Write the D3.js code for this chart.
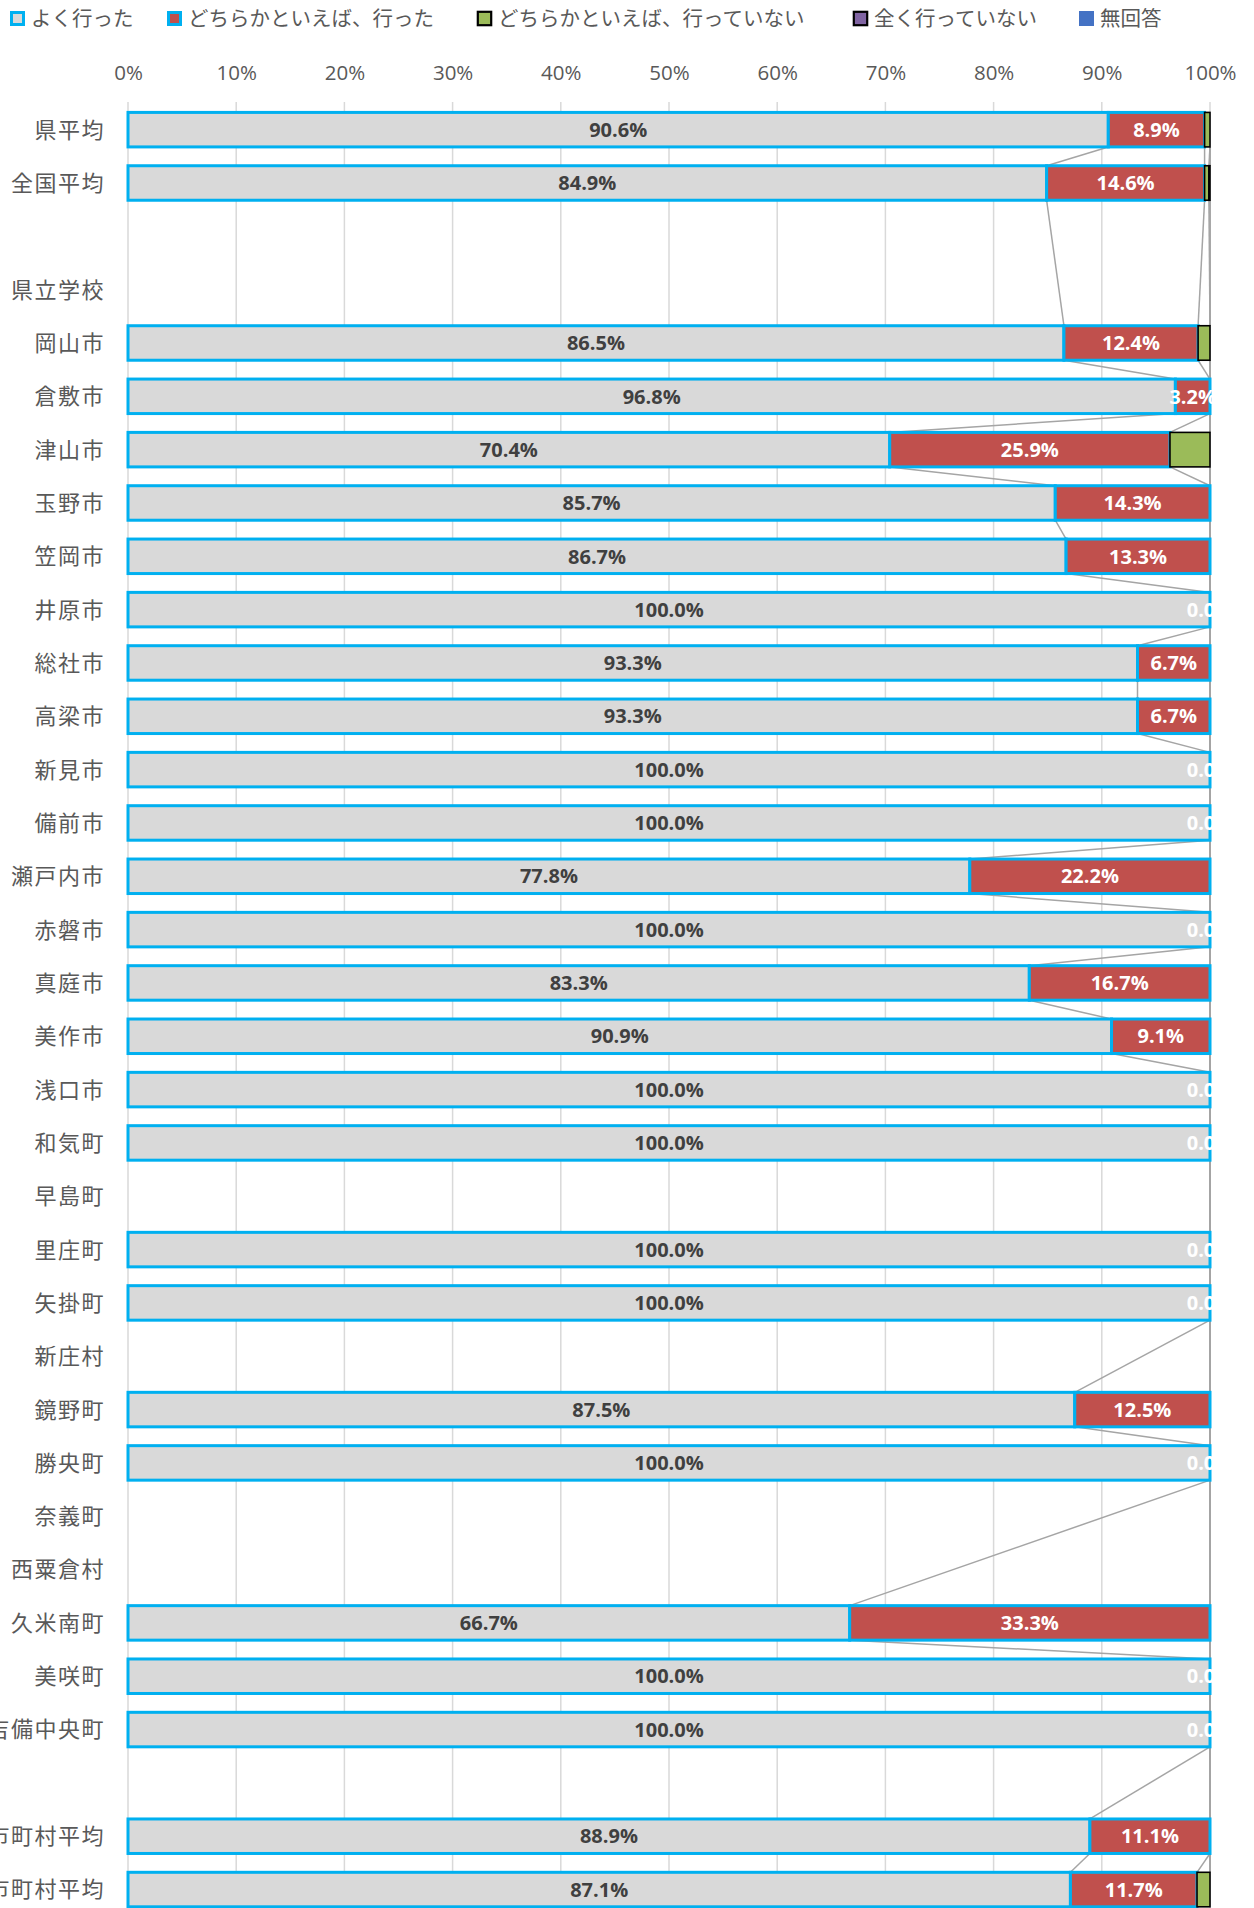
<!DOCTYPE html>
<html lang="ja">
<head>
<meta charset="utf-8">
<script src="https://cdn.jsdelivr.net/npm/d3@7"></script>
<style>
  html, body { margin: 0; padding: 0; background: #fff; }
  svg { display: block; }
</style>
</head>
<body>
<svg id="chart" width="1254" height="1908"></svg>
<script>
// Categories (top to bottom); "" marks a spacer row
const categories = [
  "県平均", "全国平均", "", "県立学校",
  "岡山市", "倉敷市", "津山市", "玉野市", "笠岡市", "井原市", "総社市", "高梁市",
  "新見市", "備前市", "瀬戸内市", "赤磐市", "真庭市", "美作市", "浅口市",
  "和気町", "早島町", "里庄町", "矢掛町", "新庄村", "鏡野町", "勝央町",
  "奈義町", "西粟倉村", "久米南町", "美咲町", "吉備中央町", "",
  "県市町村平均", "全国市町村平均"
];

// Series values in percent (null = no responses for that row)
const yokuItta = [90.6, 84.9, null, null,
  86.5, 96.8, 70.4, 85.7, 86.7, 100.0, 93.3, 93.3,
  100.0, 100.0, 77.8, 100.0, 83.3, 90.9, 100.0,
  100.0, null, 100.0, 100.0, null, 87.5, 100.0,
  null, null, 66.7, 100.0, 100.0, null,
  88.9, 87.1];
const dochiraItta = [8.9, 14.6, null, null,
  12.4, 3.2, 25.9, 14.3, 13.3, 0.0, 6.7, 6.7,
  0.0, 0.0, 22.2, 0.0, 16.7, 9.1, 0.0,
  0.0, null, 0.0, 0.0, null, 12.5, 0.0,
  null, null, 33.3, 0.0, 0.0, null,
  11.1, 11.7];
const dochiraInai = [0.5, 0.4, null, null,
  1.1, 0.0, 3.7, 0.0, 0.0, 0.0, 0.0, 0.0,
  0.0, 0.0, 0.0, 0.0, 0.0, 0.0, 0.0,
  0.0, null, 0.0, 0.0, null, 0.0, 0.0,
  null, null, 0.0, 0.0, 0.0, null,
  0.0, 1.2];
const mattakuInai = [0.0, 0.1, null, null,
  0.0, 0.0, 0.0, 0.0, 0.0, 0.0, 0.0, 0.0,
  0.0, 0.0, 0.0, 0.0, 0.0, 0.0, 0.0,
  0.0, null, 0.0, 0.0, null, 0.0, 0.0,
  null, null, 0.0, 0.0, 0.0, null,
  0.0, 0.0];
const muKaito = [0.0, 0.0, null, null,
  0.0, 0.0, 0.0, 0.0, 0.0, 0.0, 0.0, 0.0,
  0.0, 0.0, 0.0, 0.0, 0.0, 0.0, 0.0,
  0.0, null, 0.0, 0.0, null, 0.0, 0.0,
  null, null, 0.0, 0.0, 0.0, null,
  0.0, 0.0];

const seriesNames = ["よく行った", "どちらかといえば、行った", "どちらかといえば、行っていない", "全く行っていない", "無回答"];
const xTicks = [0, 10, 20, 30, 40, 50, 60, 70, 80, 90, 100];

// Styling per series
const fills   = ["#D9D9D9", "#C0504D", "#9BBB59", "#8064A2", "#4472C4"];
const strokes = ["#00B0F0", "#00B0F0", "#000000", "#000000", "none"];
const strokeW = [3, 3, 1.6, 1.6, 0];

const allSeries = [yokuItta, dochiraItta, dochiraInai, mattakuInai, muKaito];

const svg = d3.select("#chart");
const plotLeft = 128, plotRight = 1210, plotTop = 103;
const rowStep = 53.33;

const x = d3.scaleLinear().domain([0, 100]).range([plotLeft, plotRight]);
const y = d3.scaleBand()
  .domain(d3.range(categories.length))
  .range([plotTop, plotTop + rowStep * categories.length])
  .padding(0);
const barH = 34.5;
const barTop = i => y(i) + (y.bandwidth() - barH) / 2;

// Build stacked rows
const rows = categories.map((c, i) => {
  const has = yokuItta[i] !== null;
  let acc = 0;
  const segs = allSeries.map((s, k) => {
    const v = has ? s[i] : 0;
    const seg = {k, v, x0: acc, x1: acc + v};
    acc += v;
    return seg;
  });
  return {i, name: c, has, segs};
});

// Legend
const legendX = [10, 167, 477, 853, 1079];
const legend = svg.append("g");
seriesNames.forEach((n, k) => {
  const lx = legendX[k];
  const inset = strokeW[k] / 2;
  legend.append("rect")
    .attr("x", lx + inset).attr("y", 11 + inset)
    .attr("width", 15 - strokeW[k]).attr("height", 15 - strokeW[k])
    .attr("fill", fills[k])
    .attr("stroke", strokes[k])
    .attr("stroke-width", k < 2 ? 3 : strokeW[k] + 0.6);
  legend.append("text")
    .attr("x", lx + 21).attr("y", 26)
    .attr("font-family", "'Noto Sans CJK JP', sans-serif")
    .attr("font-size", 20.5)
    .attr("fill", "#595959")
    .text(n);
});

// Vertical gridlines
svg.append("g").selectAll("line").data(xTicks).join("line")
  .attr("x1", d => x(d)).attr("x2", d => x(d))
  .attr("y1", plotTop - 1).attr("y2", 1908)
  .attr("stroke", "#D9D9D9").attr("stroke-width", 1.5);

// Top axis tick labels
const xAxis = d3.axisTop(x).tickValues(xTicks).tickFormat(d => d + "%").tickSize(0).tickPadding(0);
const axG = svg.append("g").attr("transform", "translate(0,80)").call(xAxis);
axG.select(".domain").remove();
axG.selectAll("text")
  .attr("font-family", "'Open Sans', sans-serif")
  .attr("font-size", 20.5)
  .attr("fill", "#595959")
  .attr("dy", 0);

// Category labels
svg.append("g").selectAll("text").data(rows).join("text")
  .attr("x", 105)
  .attr("y", d => y(d.i) + y.bandwidth() / 2)
  .attr("dy", "0.36em")
  .attr("text-anchor", "end")
  .attr("font-family", "'Noto Sans CJK JP', sans-serif")
  .attr("font-size", 22)
  .attr("letter-spacing", 1.5)
  .attr("fill", "#595959")
  .text(d => d.name);

// Clip for plot contents
svg.append("defs").append("clipPath").attr("id", "plotClip")
  .append("rect").attr("x", 0).attr("y", plotTop - 10).attr("width", 1214).attr("height", 1908);

const plot = svg.append("g").attr("clip-path", "url(#plotClip)");

// Series lines between consecutive filled rows
const filled = rows.filter(r => r.has);
const linesG = plot.append("g");
for (let j = 0; j + 1 < filled.length; j++) {
  const a = filled[j], b = filled[j + 1];
  for (let k = 0; k < allSeries.length; k++) {
    linesG.append("line")
      .attr("x1", x(a.segs[k].x1)).attr("y1", barTop(a.i) + barH)
      .attr("x2", x(b.segs[k].x1)).attr("y2", barTop(b.i))
      .attr("stroke", "#A5A5A5").attr("stroke-width", 1.5);
  }
}

// Bars
const barsG = plot.append("g");
filled.forEach(r => {
  r.segs.forEach(s => {
    if (s.v <= 0) return;
    barsG.append("rect")
      .attr("x", x(s.x0)).attr("y", barTop(r.i))
      .attr("width", x(s.x1) - x(s.x0)).attr("height", barH)
      .attr("fill", fills[s.k])
      .attr("stroke", strokes[s.k])
      .attr("stroke-width", strokeW[s.k]);
  });
});

// Data labels for the first two series
const labelsG = plot.append("g")
  .attr("font-family", "'Open Sans', sans-serif")
  .attr("font-weight", 700)
  .attr("font-size", 20);
filled.forEach(r => {
  [0, 1].forEach(k => {
    const s = r.segs[k];
    labelsG.append("text")
      .attr("x", x((s.x0 + s.x1) / 2))
      .attr("y", barTop(r.i) + barH / 2)
      .attr("dy", "0.36em")
      .attr("text-anchor", "middle")
      .attr("fill", k === 0 ? "#404040" : "#FFFFFF")
      .text(d3.format(".1f")(s.v) + "%");
  });
});
</script>
</body>
</html>
